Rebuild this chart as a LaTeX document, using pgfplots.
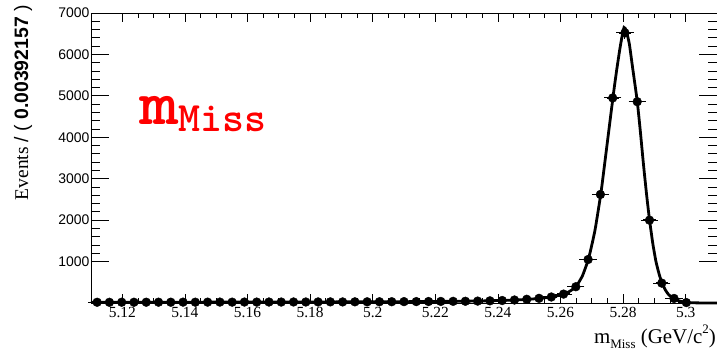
\documentclass[border=0pt]{standalone}
\usepackage{fontspec}
\setmainfont{Liberation Serif}
\setsansfont{Liberation Sans}
\usepackage{pgfplots}
\pgfplotsset{compat=1.18}
\usepackage{pgfplotstable}

\pgfplotstableread{
x y ey
5.11196 18 4.2
5.11588 17 4.1
5.11980 19 4.4
5.12373 18 4.2
5.12765 19 4.4
5.13157 20 4.5
5.13549 19 4.4
5.13941 21 4.6
5.14333 20 4.5
5.14725 21 4.6
5.15118 22 4.7
5.15510 21 4.6
5.15902 23 4.8
5.16294 22 4.7
5.16686 24 4.9
5.17078 23 4.8
5.17471 25 5.0
5.17863 24 4.9
5.18255 26 5.1
5.18647 27 5.2
5.19039 26 5.1
5.19431 28 5.3
5.19824 29 5.4
5.20216 30 5.5
5.20608 31 5.6
5.21000 33 5.7
5.21392 34 5.8
5.21784 36 6.0
5.22176 38 6.2
5.22569 40 6.3
5.22961 42 6.5
5.23353 46 6.8
5.23745 52 7.2
5.24137 60 7.7
5.24529 72 8.5
5.24922 90 9.5
5.25314 113 10.6
5.25706 145 12.0
5.26098 215 14.7
5.26490 393 19.8
5.26882 1050 32.4
5.27275 2620 51.2
5.27667 4950 70.4
5.28059 6520 80.7
5.28451 4860 69.7
5.28843 2000 44.7
5.29235 480 21.9
5.29627 110 10.5
5.30020 10 3.2
}\datatable

\pgfplotstableread{
x y
5.1100 18
5.1500 21
5.1900 27
5.2100 32
5.2250 40
5.2350 50
5.2450 70
5.2500 90
5.2532 112
5.2571 145
5.2610 212
5.2630 285
5.2650 400
5.2670 655
5.2690 1080
5.2710 1750
5.2730 2700
5.2750 3900
5.2770 5100
5.2780 5650
5.2790 6150
5.2797 6450
5.2803 6650
5.2810 6580
5.2820 6250
5.2830 5700
5.2845 4880
5.2855 4150
5.2865 3350
5.2875 2620
5.2884 2030
5.2895 1430
5.2905 1000
5.2915 700
5.2924 490
5.2935 315
5.2945 205
5.2955 140
5.2963 105
5.2975 62
5.2990 30
5.3002 14
5.3020 5
5.3060 1
5.3100 0
}\curvetable

\begin{document}
\begin{tikzpicture}
\begin{axis}[
  at={(0,0)}, anchor=south west,
  scale only axis, width=626bp, height=290bp,
  xmin=5.11, xmax=5.31, ymin=0, ymax=7000,
  xtick={5.12,5.14,5.16,5.18,5.20,5.22,5.24,5.26,5.28,5.30},
  xticklabels={5.12,5.14,5.16,5.18,5.2,5.22,5.24,5.26,5.28,5.3},
  minor x tick num=3,
  ytick=\empty,
  major tick length=9bp, minor tick length=5bp,
  tick style={black, line width=0.8pt},
  axis line style={black, line width=0.8pt},
  xticklabel style={font=\fontsize{15.5}{15.5}\selectfont, yshift=-1bp},
  clip=false,
]
\addplot[black, line width=2.8pt, smooth, tension=0.3] table[x=x,y=y]{\curvetable};
\addplot[only marks, mark=*, mark size=4.4bp, black,
  error bars/.cd, x dir=both, x fixed=0.00196, y dir=both, y explicit,
  error bar style={line width=1.4pt},
  error mark options={mark size=2.5bp, line width=1pt}]
  table[x=x, y=y, y error=ey]{\datatable};
\end{axis}
\begin{axis}[
  at={(0,0)}, anchor=south west,
  scale only axis, width=626bp, height=290bp,
  xmin=5.11, xmax=5.31, ymin=0, ymax=7000,
  xtick=\empty,
  ytick={1000,2000,3000,4000,5000,6000,7000},
  yticklabels={1000,2000,3000,4000,5000,6000,7000},
  minor y tick num=4,
  major tick length=18bp, minor tick length=9bp,
  tick style={black, line width=0.8pt},
  axis line style={black, line width=0.8pt},
  yticklabel style={font=\sffamily\fontsize{14}{14}\selectfont, xshift=2bp},
]
\end{axis}
\node[anchor=base west, inner sep=0, text=red] at (48bp,178bp)
  {\ttfamily\bfseries\addfontfeatures{FakeBold=4}\fontsize{64}{64}\selectfont\scalebox{1.18}[1]{m}\fontsize{42}{42}\selectfont\raisebox{-7bp}{Miss}};
\node[rotate=90, anchor=east, inner sep=0] at (-68bp,298bp)
  {\fontsize{19.5}{19.5}\selectfont Events {\sffamily / ( \textbf{0.00392157} )}};
\node[anchor=base east, inner sep=0] at (625bp,-40bp)
  {\fontsize{21}{21}\selectfont m{\fontsize{13}{13}\selectfont\raisebox{-5bp}{Miss}} (GeV/c{\fontsize{13}{13}\selectfont\raisebox{10bp}{2}})};
\pgfresetboundingbox
\path[use as bounding box] (-91bp,-50bp) rectangle (626bp,303bp);
\end{tikzpicture}
\end{document}
